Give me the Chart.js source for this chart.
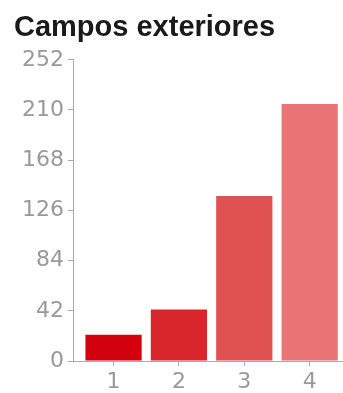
<!DOCTYPE html>
<html lang="es">
  <head>
    <meta charset="UTF-8" />
    <title>Campos exteriores</title>
    <style>
      * {
        margin: 0;
        padding: 0;
        box-sizing: border-box;
      }
      body {
        background: #fff;
      }
      .chartBox {
        width: 343px;
        height: 393px;
      }
    </style>
  </head>
  <body>
    <div class="chartBox">
      <canvas id="myChart"></canvas>
    </div>

    <script src="https://cdn.jsdelivr.net/npm/chart.js"></script>

    <script>
      const categories = [1, 2, 3, 4];
      const values = [22, 43, 138, 215];
      const barColors = ["#d3000e", "#d9262c", "#e05252", "#e87476"];
      const yTicks = [0, 42, 84, 126, 168, 210, 252];

      const ctx = document.getElementById("myChart");
      const tickFont = { family: "DejaVu Sans", size: 22, lineHeight: 1 };

      const config = {
        type: "bar",
        data: {
          datasets: [
            {
              label: "Campos exteriores",
              data: categories.map((c, i) => ({ x: c, y: values[i] })),
              backgroundColor: barColors,
              borderWidth: 0,
              barPercentage: 0.86,
              categoryPercentage: 1,
            },
          ],
        },
        options: {
          responsive: true,
          maintainAspectRatio: false,
          animation: false,
          layout: {
            padding: { left: 14, right: 0, top: 0, bottom: 0 },
          },
          plugins: {
            legend: { display: false },
            tooltip: { enabled: false },
            title: {
              display: true,
              text: "Campos exteriores",
              align: "start",
              color: "#1a1a1a",
              font: { family: "Arial, Liberation Sans", size: 29, weight: "bold", lineHeight: 1.2 },
              padding: { top: 11, bottom: 14 },
            },
          },
          scales: {
            x: {
              type: "linear",
              offset: false,
              min: 0.38,
              max: 4.51,
              afterBuildTicks: (scale) => {
                scale.ticks = categories.map((v) => ({ value: v }));
              },
              afterFit: (scale) => {
                scale.height = 32;
              },
              grid: {
                offset: false,
                drawOnChartArea: false,
                tickLength: 5,
                color: "#aaa",
              },
              border: { color: "#aaa" },
              ticks: {
                color: "#999",
                font: tickFont,
                padding: 5,
                maxRotation: 0,
              },
            },
            y: {
              min: 0,
              max: 252,
              afterBuildTicks: (scale) => {
                scale.ticks = yTicks.map((v) => ({ value: v }));
              },
              afterFit: (scale) => {
                scale.width = 59;
              },
              grid: {
                drawOnChartArea: false,
                tickLength: 5,
                color: "#aaa",
              },
              border: { color: "#aaa" },
              ticks: {
                color: "#999",
                font: tickFont,
                padding: 4,
              },
            },
          },
        },
      };

      const myChart = new Chart(ctx, config);
    </script>
  </body>
</html>
